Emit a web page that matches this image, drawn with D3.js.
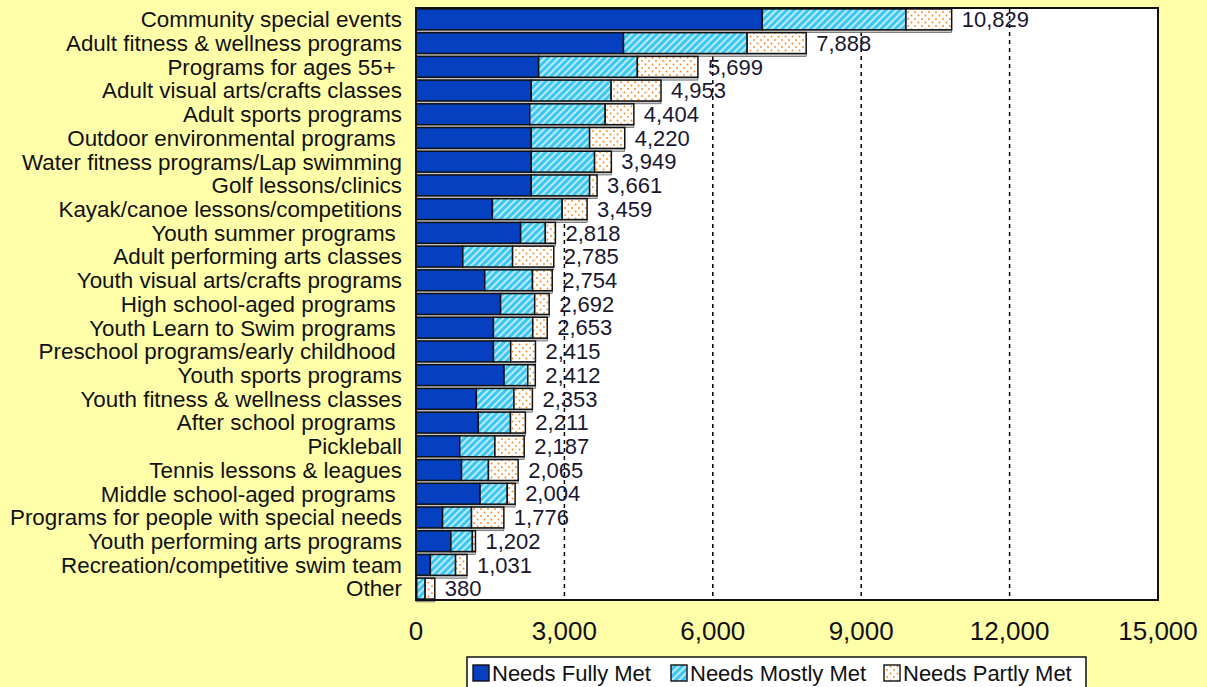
<!DOCTYPE html>
<html><head><meta charset="utf-8">
<script src="https://cdn.jsdelivr.net/npm/d3@7"></script>
<style>
html,body{margin:0;padding:0;background:#FFFFAA;}
svg{display:block;font-family:"Liberation Sans",Arial,sans-serif;}
.cat{white-space:pre;}
</style></head><body>
<svg id="chart" width="1207" height="687"></svg>
<script>
const categories = [
  "Community special events","Adult fitness & wellness programs","Programs for ages 55+ ",
  "Adult visual arts/crafts classes","Adult sports programs","Outdoor environmental programs ",
  "Water fitness programs/Lap swimming","Golf lessons/clinics","Kayak/canoe lessons/competitions",
  "Youth summer programs ","Adult performing arts classes","Youth visual arts/crafts programs",
  "High school-aged programs ","Youth Learn to Swim programs ","Preschool programs/early childhood ",
  "Youth sports programs","Youth fitness & wellness classes","After school programs ",
  "Pickleball","Tennis lessons & leagues","Middle school-aged programs ",
  "Programs for people with special needs","Youth performing arts programs","Recreation/competitive swim team","Other"
];
const fullyMet  = [7000,4195,2480,2330,2300,2330,2330,2330,1545,2115,946,1390,1710,1565,1565,1780,1220,1260,885,920,1295,537,705,290,15];
const mostlyMet = [2905,2500,1995,1615,1525,1180,1280,1180,1410,500,1007,965,690,795,350,480,760,650,710,545,550,585,435,510,170];
const partlyMet = [924,1193,1224,1008,579,710,339,151,504,203,832,399,292,293,500,152,373,301,592,600,159,654,62,231,195];
const totals    = [10829,7888,5699,4953,4404,4220,3949,3661,3459,2818,2785,2754,2692,2653,2415,2412,2353,2211,2187,2065,2004,1776,1202,1031,380];
const xTicks = [0,3000,6000,9000,12000,15000];
const gridTicks = [3000,6000,9000,12000];
const seriesNames = ["Needs Fully Met","Needs Mostly Met","Needs Partly Met"];

const svg = d3.select("#chart");
const fills = ["#0440C0","url(#hatch)","url(#dots)"];
const keys = ["fully","mostly","partly"];

const defs = svg.append("defs");
const hatch = defs.append("pattern").attr("id","hatch").attr("patternUnits","userSpaceOnUse")
  .attr("width",5).attr("height",5).attr("patternTransform","rotate(45)");
hatch.append("rect").attr("width",5).attr("height",5).attr("fill","#3CC6F4");
hatch.append("line").attr("x1",1).attr("y1",0).attr("x2",1).attr("y2",5).attr("stroke","#ffffff").attr("stroke-width",1.3);
const dots = defs.append("pattern").attr("id","dots").attr("patternUnits","userSpaceOnUse")
  .attr("width",7).attr("height",7);
dots.append("rect").attr("width",7).attr("height",7).attr("fill","#ffffff");
dots.append("circle").attr("cx",1.5).attr("cy",1.5).attr("r",0.95).attr("fill","#F58A1F");
dots.append("circle").attr("cx",5).attr("cy",5).attr("r",0.95).attr("fill","#F58A1F");

const x = d3.scaleLinear().domain([0,15000]).range([416,1158]);
const y = d3.scaleBand().domain(categories).range([8,600]).paddingInner(0.12).paddingOuter(0.04);
const bw = y.bandwidth(), step = y.step();

// plot background
svg.append("rect").attr("x",x(0)).attr("y",8).attr("width",x(15000)-x(0)).attr("height",592).attr("fill","#ffffff");

// gridlines
svg.append("g").selectAll("line").data(gridTicks).join("line")
  .attr("x1",d=>x(d)).attr("x2",d=>x(d)).attr("y1",8).attr("y2",600)
  .attr("stroke","#000").attr("stroke-width",1.5).attr("stroke-dasharray","4,4");

const rows = categories.map((c,i)=>({cat:c, fully:fullyMet[i], mostly:mostlyMet[i], partly:partlyMet[i], total:totals[i]}));
const stacked = d3.stack().keys(keys)(rows);

// shadow strips beneath bars
svg.append("g").selectAll("rect").data(rows).join("rect")
  .attr("x",x(0)).attr("y",d=>y(d.cat)+bw)
  .attr("width",d=>x(d.fully+d.mostly+d.partly)-x(0)).attr("height",step-bw)
  .attr("fill","#C6C6C6").attr("stroke","#444").attr("stroke-width",0.6);

// bars
stacked.forEach((s,k)=>{
  svg.append("g").selectAll("rect").data(s).join("rect")
    .attr("x",d=>x(d[0])).attr("y",d=>y(d.data.cat))
    .attr("width",d=>x(d[1])-x(d[0])).attr("height",bw)
    .attr("fill",fills[k]).attr("stroke","#111").attr("stroke-width",1.5);
});

// value labels
const fmt = d3.format(",");
svg.append("g").selectAll("text").data(rows).join("text")
  .attr("x",d=>x(d.fully+d.mostly+d.partly)+10).attr("y",d=>y(d.cat)+bw/2).attr("dy","0.35em")
  .attr("font-size",22).attr("fill","#1a1830").text(d=>fmt(d.total));

// category labels
svg.append("g").selectAll("text").data(categories).join("text")
  .attr("class","cat").attr("x",402).attr("y",d=>y(d)+bw/2).attr("dy","0.35em")
  .attr("text-anchor","end").attr("font-size",22.4).attr("fill","#111").text(d=>d);

// x tick labels
svg.append("g").selectAll("text").data(xTicks).join("text")
  .attr("x",d=>x(d)).attr("y",640).attr("text-anchor","middle")
  .attr("font-size",26).attr("fill","#111").text(d=>fmt(d));

// plot border
svg.append("rect").attr("x",x(0)).attr("y",8).attr("width",x(15000)-x(0)).attr("height",592)
  .attr("fill","none").attr("stroke","#111").attr("stroke-width",2);

// legend
const lg = svg.append("g");
lg.append("rect").attr("x",467).attr("y",657).attr("width",619).attr("height",40)
  .attr("fill","#ffffff").attr("stroke","#111").attr("stroke-width",1.5);
const lx = [473,671,884];
const tx = [492,690,903];
seriesNames.forEach((n,i)=>{
  lg.append("rect").attr("x",lx[i]).attr("y",665).attr("width",16).attr("height",16)
    .attr("fill",fills[i]).attr("stroke","#111").attr("stroke-width",1.4);
  lg.append("text").attr("x",tx[i]).attr("y",681).attr("font-size",22).attr("fill","#111").text(n);
});
</script>
</body></html>
